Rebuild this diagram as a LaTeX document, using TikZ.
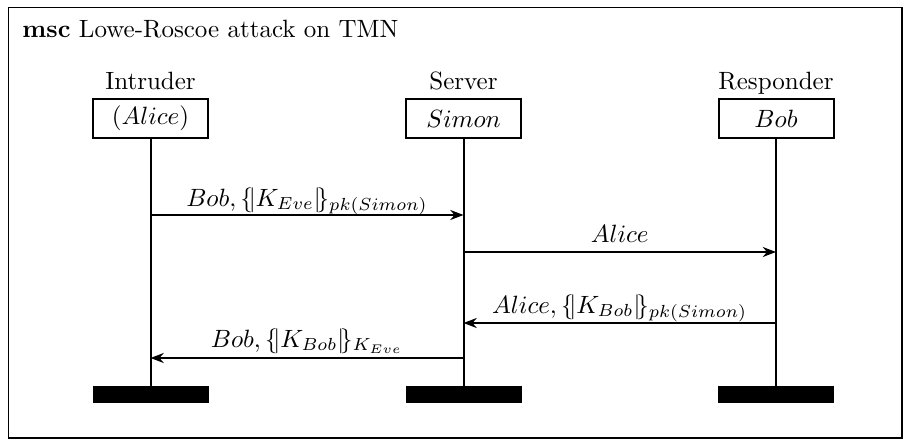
\documentclass[tikz,border=0pt]{standalone}
\usetikzlibrary{arrows.meta,calc}
\newcommand{\encl}[1]{\{\!|#1|\!\}}
\begin{document}
\begin{tikzpicture}[x=0.40pt,y=-0.40pt,
  frame/.style={draw,line width=0.7pt},
  instbox/.style={draw,line width=0.8pt,minimum width=46pt,minimum height=15.6pt,inner sep=0pt},
  endbar/.style={fill=black,draw=black,minimum width=46pt,minimum height=6.4pt,inner sep=0pt},
  lifeline/.style={line width=0.8pt},
  msg/.style={line width=0.8pt,-{Stealth[length=5.3pt,width=4pt,inset=1.7pt]}},
  lbl/.style={anchor=base,inner sep=0pt}]
\useasboundingbox (0,0) rectangle (910,446);
\draw[frame] (8.5,7.5) rectangle (902,438);
\node[anchor=base west,inner sep=0pt] (title) at (22,37.5) {\textbf{msc} Lowe-Roscoe attack on TMN};
% instances
\node[instbox] (ib) at (150.5,118.5) {$(Alice)$};
\node[instbox] (sb) at (463.5,118.5) {$Simon$};
\node[instbox] (rb) at (776,118.5) {$Bob$};
\node[anchor=base,inner sep=0pt] (ih) at (ib.north |- 0,90) {Intruder};
\node[anchor=base,inner sep=0pt] (sh) at (sb.north |- 0,90) {Server};
\node[anchor=base,inner sep=0pt] (rh) at (rb.north |- 0,90) {Responder};
\node[endbar] (ie) at (150.5,394) {};
\node[endbar] (se) at (463.5,394) {};
\node[endbar] (re) at (776,394) {};
\draw[lifeline] (ib.south) -- (ie.north);
\draw[lifeline] (sb.south) -- (se.north);
\draw[lifeline] (rb.south) -- (re.north);
% message points
\coordinate (i1) at (150.5,215);
\coordinate (s1) at (463.5,215);
\coordinate (s2) at (463.5,252);
\coordinate (r2) at (776,252);
\coordinate (r3) at (776,323);
\coordinate (s3) at (463.5,323);
\coordinate (s4) at (463.5,358);
\coordinate (i4) at (150.5,358);
\draw[msg] (i1) -- (s1);
\draw[msg] (s2) -- (r2);
\draw[msg] (r3) -- (s3);
\draw[msg] (s4) -- (i4);
\node[lbl] (l1) at ($(i1)!0.5!(s1)+(0,-9)$) {$Bob, \encl{K_{Eve}}_{pk(Simon)}$};
\node[lbl] (l2) at ($(s2)!0.5!(r2)+(0,-10)$) {$Alice$};
\node[lbl] (l3) at ($(r3)!0.5!(s3)+(0,-10)$) {$Alice, \encl{K_{Bob}}_{pk(Simon)}$};
\node[lbl] (l4) at ($(s4)!0.5!(i4)+(0,-11)$) {$Bob, \encl{K_{Bob}}_{K_{Eve}}$};
\end{tikzpicture}
\end{document}
